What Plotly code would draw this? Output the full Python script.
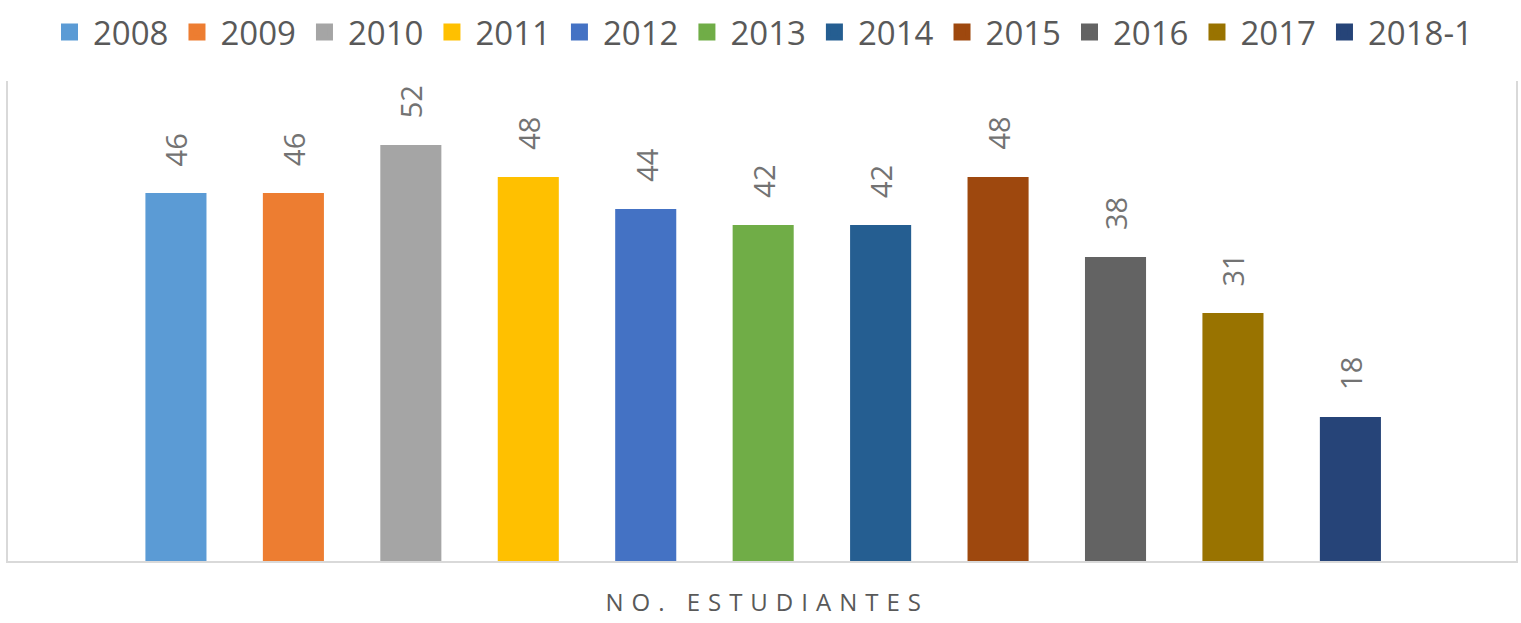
import plotly.graph_objects as go

years = ["2008", "2009", "2010", "2011", "2012", "2013", "2014", "2015", "2016", "2017", "2018-1"]
students = [46, 46, 52, 48, 44, 42, 42, 48, 38, 31, 18]
colors = ["#5B9BD5", "#ED7D31", "#A5A5A5", "#FFC000", "#4472C4", "#70AD47",
          "#255E91", "#9E480E", "#636363", "#997300", "#264478"]
category_label = "NO. ESTUDIANTES"

sp = "\u2004"
spaced_label = sp.join(list(category_label))

fig = go.Figure()
for i, (yr, v, c) in enumerate(zip(years, students, colors)):
    fig.add_trace(go.Bar(
        x=[i], y=[v], name=yr, width=0.52,
        marker=dict(color=c, line=dict(width=0)),
        hoverinfo="name+y", showlegend=False, legendgroup=yr,
    ))
    # legend-only entry with a larger swatch
    fig.add_trace(go.Bar(
        x=[None], y=[None], name=yr, legendgroup=yr,
        marker=dict(color=c, line=dict(width=5, color=c)),
        hoverinfo="skip", showlegend=True,
    ))
    fig.add_annotation(
        x=i, y=v, text=str(v), textangle=-90, showarrow=False,
        xanchor="center", yanchor="bottom", yshift=25,
        font=dict(family="Open Sans", size=29, color="#737373"),
    )

fig.update_layout(
    width=1521, height=623,
    margin=dict(l=8, r=3, t=81, b=62),
    paper_bgcolor="white", plot_bgcolor="white",
    barmode="overlay",
    showlegend=True,
    legend=dict(
        orientation="h", x=0.5, xanchor="center", y=1.102, yanchor="middle",
        font=dict(family="Open Sans", size=33, color="#595959"),
        traceorder="normal", itemwidth=37,
    ),
    xaxis=dict(
        range=[-1.43, 11.41],
        tickvals=[(len(years) - 1) / 2], ticktext=[spaced_label],
        tickfont=dict(family="Open Sans", size=24, color="#595959"),
        showgrid=False, zeroline=False,
        showline=True, linecolor="#D9D9D9", linewidth=1.5,
        ticks="", ticklabelstandoff=19,
    ),
    yaxis=dict(
        range=[0, 60], showticklabels=False, showgrid=False, zeroline=False,
        showline=True, mirror=True, linecolor="#D9D9D9", linewidth=1.5, ticks="",
    ),
)

fig.write_html("out.html", config={"displayModeBar": False},
               post_script="document.body.style.margin='0';")
